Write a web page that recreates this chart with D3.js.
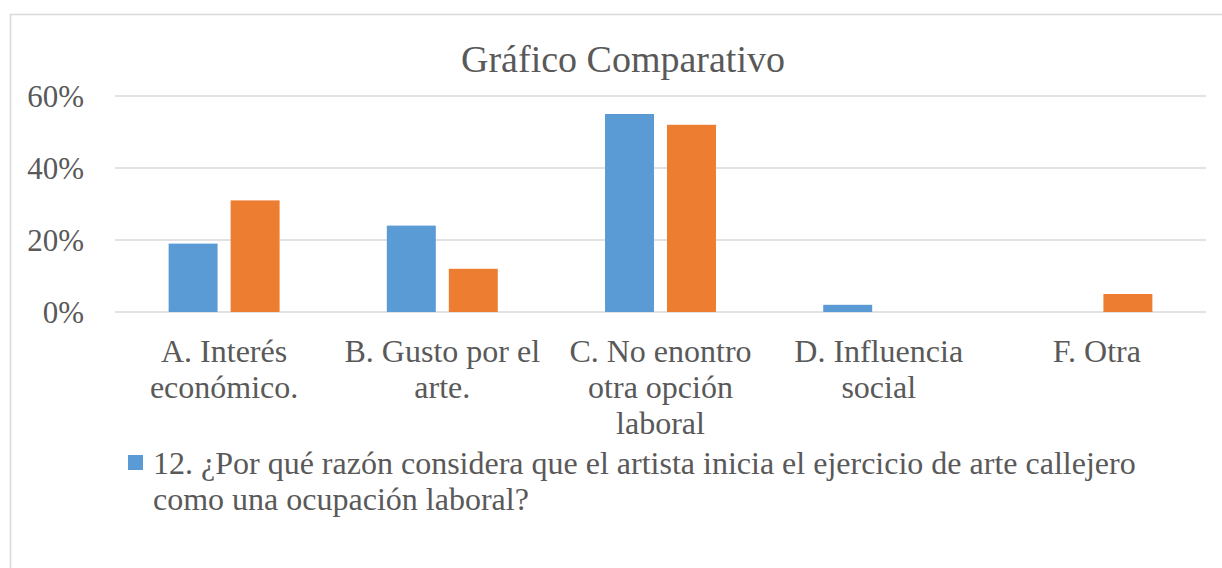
<!DOCTYPE html>
<html>
<head>
<meta charset="utf-8">
<script src="https://cdn.jsdelivr.net/npm/d3@7"></script>
<style>
  body { margin: 0; background: #fff; }
</style>
</head>
<body>
<svg id="chart" width="1222" height="568"></svg>
<script>
// data
var categories = ["A. Interés económico.", "B. Gusto por el arte.", "C. No enontro otra opción laboral", "D. Influencia social", "F. Otra"]
var seriesNames = ["12. ¿Por qué razón considera que el artista inicia el ejercicio de arte callejero como una ocupación laboral?", "Serie 2"]
var blueValues = [0.19, 0.24, 0.55, 0.02, 0]
var orangeValues = [0.31, 0.12, 0.52, 0, 0.05]
var yTicks = [0, 0.2, 0.4, 0.6]
var colors = ["#5B9BD5", "#ED7D31"]

var FONT = "'Liberation Serif', 'Times New Roman', serif"
var svg = d3.select("#chart")

// chart area border (right/bottom run off the picture)
svg.append("rect")
  .attr("x", 10.5).attr("y", 14.5)
  .attr("width", 1400).attr("height", 800)
  .attr("fill", "#fff").attr("stroke", "#D9D9D9").attr("stroke-width", 1.5)

var x0 = d3.scaleBand().domain(categories).range([115, 1206])
var x1 = d3.scaleBand().domain([0, 1]).range([0, x0.bandwidth()])
  .paddingInner(0.21).paddingOuter(0.865)
var y = d3.scaleLinear().domain([0, 0.6]).range([312, 96])

// gridlines
svg.append("g").selectAll("line")
  .data(yTicks)
  .enter().append("line")
  .attr("x1", 115).attr("x2", 1206)
  .attr("y1", function(d) { return y(d) }).attr("y2", function(d) { return y(d) })
  .attr("stroke", "#D9D9D9").attr("stroke-width", 1.5)

// y axis labels
var yAxis = d3.axisLeft(y).tickValues(yTicks).tickFormat(d3.format(".0%")).tickSize(0).tickPadding(0)
var yg = svg.append("g").attr("transform", "translate(84,0)").call(yAxis)
  .attr("font-family", null).attr("font-size", null)
yg.select(".domain").remove()
yg.selectAll("text")
  .style("font-family", FONT).style("font-size", "31px").style("fill", "#595959")
  .attr("dy", "0.34em")

// bars
var rows = categories.map(function(c, i) { return {cat: c, vals: [blueValues[i], orangeValues[i]]} })
var groups = svg.append("g").selectAll("g")
  .data(rows)
  .enter().append("g")
  .attr("transform", function(d) { return "translate(" + x0(d.cat) + ",0)" })
groups.selectAll("rect")
  .data(function(d) { return d.vals.map(function(v, k) { return {k: k, v: v} }) })
  .enter().append("rect")
  .filter(function(d) { return d.v > 0 })
  .attr("x", function(d) { return x1(d.k) })
  .attr("width", x1.bandwidth())
  .attr("y", function(d) { return y(d.v) })
  .attr("height", function(d) { return y(0) - y(d.v) })
  .attr("fill", function(d) { return colors[d.k] })

function wrap(sel, width, lineH) {
  sel.each(function() {
    var t = d3.select(this), words = t.text().split(/\s+/), xPos = t.attr("x")
    t.text(null)
    var line = [], ts = t.append("tspan").attr("x", xPos).attr("dy", 0)
    words.forEach(function(w) {
      line.push(w)
      ts.text(line.join(" "))
      if (ts.node().getComputedTextLength() > width && line.length > 1) {
        line.pop()
        ts.text(line.join(" "))
        line = [w]
        ts = t.append("tspan").attr("x", xPos).attr("dy", lineH).text(w)
      }
    })
  })
}

// category labels
svg.append("g").selectAll("text")
  .data(categories)
  .enter().append("text")
  .attr("x", function(d) { return x0(d) + x0.bandwidth() / 2 })
  .attr("y", 362)
  .attr("text-anchor", "middle")
  .style("font-family", FONT).style("font-size", "32px").style("fill", "#595959")
  .text(function(d) { return d })
  .call(wrap, x0.bandwidth() - 4, 36)

// title
svg.append("text")
  .attr("x", 623).attr("y", 72)
  .attr("text-anchor", "middle")
  .style("font-family", FONT).style("font-size", "38px").style("fill", "#595959")
  .text("Gráfico Comparativo")

// legend (only first series shown)
svg.append("rect")
  .attr("x", 128).attr("y", 455).attr("width", 15).attr("height", 15)
  .attr("fill", colors[0])
svg.append("text")
  .attr("x", 153).attr("y", 474)
  .style("font-family", FONT).style("font-size", "32px").style("fill", "#595959")
  .text(seriesNames[0])
  .call(wrap, 1020, 36)
</script>
</body>
</html>
